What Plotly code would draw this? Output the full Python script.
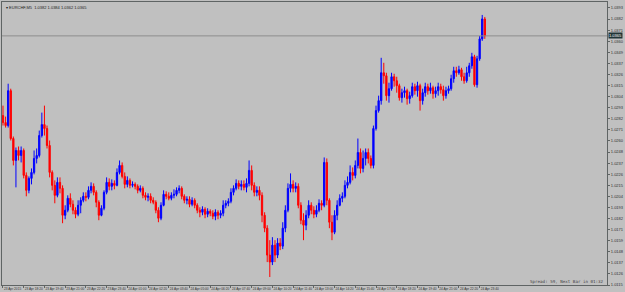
import plotly.graph_objects as go
import pandas as pd

symbol_text = "\u25be EURCHF,M5  1.0382 1.0384 1.0362 1.0365"
status_text = "Spread: 59, Next Bar in 01:32"
bid_price = 1.0365

opens = [1.0285,1.0278,1.0275,1.0310,1.0262,1.0240,1.0250,1.0245,1.0250,1.0225,
1.0210,1.0222,1.0228,1.0242,1.0245,1.0265,1.0276,1.0272,1.0255,1.0228,
1.0215,1.0205,1.0218,1.0212,1.0185,1.0190,1.0202,1.0196,1.0190,1.0186,
1.0195,1.0200,1.0204,1.0203,1.0210,1.0214,1.0208,1.0198,1.0185,1.0192,
1.0208,1.0218,1.0214,1.0217,1.0215,1.0228,1.0235,1.0224,1.0216,1.0220,
1.0215,1.0216,1.0214,1.0210,1.0212,1.0205,1.0203,1.0204,1.0200,1.0198,
1.0190,1.0182,1.0195,1.0206,1.0204,1.0202,1.0205,1.0206,1.0210,1.0212,
1.0204,1.0200,1.0201,1.0196,1.0200,1.0195,1.0190,1.0188,1.0191,1.0186,
1.0189,1.0187,1.0184,1.0188,1.0185,1.0187,1.0195,1.0197,1.0199,1.0208,
1.0212,1.0217,1.0214,1.0216,1.0213,1.0217,1.0230,1.0215,1.0208,1.0210,
1.0205,1.0185,1.0172,1.0145,1.0138,1.0155,1.0145,1.0157,1.0154,1.0172,
1.0190,1.0212,1.0216,1.0212,1.0214,1.0195,1.0180,1.0175,1.0185,1.0195,
1.0190,1.0186,1.0190,1.0197,1.0195,1.0238,1.0200,1.0178,1.0168,1.0185,
1.0195,1.0202,1.0204,1.0215,1.0218,1.0228,1.0225,1.0235,1.0248,1.0232,
1.0242,1.0248,1.0242,1.0235,1.0272,1.0290,1.0300,1.0328,1.0325,1.0305,
1.0312,1.0324,1.0320,1.0315,1.0303,1.0308,1.0310,1.0302,1.0305,1.0314,
1.0310,1.0315,1.0300,1.0308,1.0314,1.0310,1.0313,1.0307,1.0310,1.0314,
1.0311,1.0305,1.0310,1.0312,1.0322,1.0330,1.0328,1.0331,1.0324,1.0320,
1.0328,1.0335,1.0344,1.0316,1.0342,1.0362,1.0382]

highs = [1.0295,1.0284,1.0317,1.0312,1.0264,1.0253,1.0254,1.0254,1.0252,1.0228,
1.0224,1.0232,1.0250,1.0252,1.0270,1.0288,1.0295,1.0275,1.0260,1.0230,
1.0220,1.0223,1.0223,1.0215,1.0195,1.0205,1.0207,1.0200,1.0193,1.0200,
1.0203,1.0208,1.0208,1.0214,1.0218,1.0217,1.0210,1.0200,1.0195,1.0210,
1.0223,1.0222,1.0221,1.0220,1.0232,1.0240,1.0238,1.0228,1.0224,1.0222,
1.0219,1.0218,1.0216,1.0215,1.0214,1.0208,1.0207,1.0207,1.0203,1.0200,
1.0193,1.0198,1.0210,1.0209,1.0208,1.0208,1.0211,1.0213,1.0215,1.0214,
1.0206,1.0204,1.0204,1.0203,1.0202,1.0197,1.0193,1.0194,1.0193,1.0192,
1.0191,1.0190,1.0191,1.0190,1.0190,1.0200,1.0200,1.0202,1.0212,1.0215,
1.0221,1.0220,1.0220,1.0220,1.0222,1.0240,1.0235,1.0218,1.0214,1.0214,
1.0208,1.0188,1.0175,1.0160,1.0163,1.0160,1.0162,1.0162,1.0178,1.0195,
1.0217,1.0227,1.0220,1.0218,1.0217,1.0198,1.0187,1.0190,1.0200,1.0198,
1.0194,1.0195,1.0201,1.0200,1.0243,1.0242,1.0202,1.0185,1.0190,1.0200,
1.0206,1.0208,1.0220,1.0224,1.0235,1.0233,1.0240,1.0262,1.0252,1.0250,
1.0252,1.0252,1.0245,1.0275,1.0295,1.0305,1.0343,1.0338,1.0328,1.0318,
1.0328,1.0327,1.0324,1.0317,1.0312,1.0314,1.0312,1.0309,1.0318,1.0317,
1.0319,1.0317,1.0312,1.0318,1.0317,1.0318,1.0315,1.0314,1.0318,1.0317,
1.0315,1.0314,1.0315,1.0326,1.0334,1.0334,1.0335,1.0333,1.0328,1.0334,
1.0338,1.0348,1.0346,1.0345,1.0365,1.0386,1.0384]

lows = [1.0275,1.0273,1.0273,1.0260,1.0235,1.0213,1.0240,1.0238,1.0222,1.0204,
1.0207,1.0216,1.0226,1.0237,1.0243,1.0263,1.0265,1.0252,1.0223,1.0210,
1.0197,1.0203,1.0207,1.0177,1.0181,1.0188,1.0193,1.0186,1.0182,1.0184,
1.0187,1.0198,1.0199,1.0201,1.0207,1.0205,1.0193,1.0180,1.0184,1.0190,
1.0206,1.0210,1.0210,1.0211,1.0214,1.0226,1.0222,1.0212,1.0213,1.0212,
1.0213,1.0211,1.0207,1.0208,1.0202,1.0200,1.0199,1.0197,1.0196,1.0187,
1.0178,1.0180,1.0194,1.0201,1.0200,1.0200,1.0202,1.0204,1.0207,1.0201,
1.0197,1.0196,1.0193,1.0194,1.0192,1.0187,1.0183,1.0185,1.0182,1.0183,
1.0184,1.0181,1.0180,1.0181,1.0182,1.0184,1.0192,1.0194,1.0197,1.0205,
1.0210,1.0211,1.0210,1.0210,1.0208,1.0214,1.0210,1.0204,1.0204,1.0200,
1.0178,1.0168,1.0138,1.0123,1.0135,1.0138,1.0142,1.0150,1.0151,1.0168,
1.0188,1.0208,1.0208,1.0208,1.0192,1.0176,1.0160,1.0170,1.0182,1.0186,
1.0182,1.0183,1.0188,1.0190,1.0193,1.0195,1.0172,1.0160,1.0166,1.0180,
1.0194,1.0198,1.0202,1.0212,1.0216,1.0220,1.0222,1.0232,1.0227,1.0228,
1.0235,1.0237,1.0232,1.0232,1.0270,1.0288,1.0296,1.0317,1.0300,1.0298,
1.0310,1.0314,1.0308,1.0300,1.0298,1.0303,1.0296,1.0297,1.0303,1.0306,
1.0304,1.0290,1.0296,1.0304,1.0306,1.0307,1.0302,1.0303,1.0305,1.0307,
1.0300,1.0302,1.0307,1.0310,1.0318,1.0324,1.0326,1.0320,1.0317,1.0318,
1.0324,1.0332,1.0314,1.0313,1.0340,1.0360,1.0362]

closes = [1.0278,1.0275,1.0310,1.0262,1.0240,1.0250,1.0245,1.0250,1.0225,1.0210,
1.0222,1.0228,1.0242,1.0245,1.0265,1.0276,1.0272,1.0255,1.0228,1.0215,
1.0205,1.0218,1.0212,1.0185,1.0190,1.0202,1.0196,1.0190,1.0186,1.0195,
1.0200,1.0204,1.0203,1.0210,1.0214,1.0208,1.0198,1.0185,1.0192,1.0208,
1.0218,1.0214,1.0217,1.0215,1.0228,1.0235,1.0224,1.0216,1.0220,1.0215,
1.0216,1.0214,1.0210,1.0212,1.0205,1.0203,1.0204,1.0200,1.0198,1.0190,
1.0182,1.0195,1.0206,1.0204,1.0202,1.0205,1.0206,1.0210,1.0212,1.0204,
1.0200,1.0201,1.0196,1.0200,1.0195,1.0190,1.0188,1.0191,1.0186,1.0189,
1.0187,1.0184,1.0188,1.0185,1.0187,1.0195,1.0197,1.0199,1.0208,1.0212,
1.0217,1.0214,1.0216,1.0213,1.0217,1.0230,1.0215,1.0208,1.0210,1.0205,
1.0185,1.0172,1.0145,1.0138,1.0155,1.0145,1.0157,1.0154,1.0172,1.0190,
1.0212,1.0216,1.0212,1.0214,1.0195,1.0180,1.0175,1.0185,1.0195,1.0190,
1.0186,1.0190,1.0197,1.0195,1.0238,1.0200,1.0178,1.0168,1.0185,1.0195,
1.0202,1.0204,1.0215,1.0218,1.0228,1.0225,1.0235,1.0248,1.0232,1.0242,
1.0248,1.0242,1.0235,1.0272,1.0290,1.0300,1.0328,1.0325,1.0305,1.0312,
1.0324,1.0320,1.0315,1.0303,1.0308,1.0310,1.0302,1.0305,1.0314,1.0310,
1.0315,1.0300,1.0308,1.0314,1.0310,1.0313,1.0307,1.0310,1.0314,1.0311,
1.0305,1.0310,1.0312,1.0322,1.0330,1.0328,1.0331,1.0324,1.0320,1.0328,
1.0335,1.0344,1.0316,1.0342,1.0362,1.0382,1.0365]

price_tick_vals = [1.039300,1.038188,1.037076,1.035964,1.034852,1.033740,1.032628,
1.031516,1.030404,1.029292,1.028180,1.027068,1.025956,1.024844,1.023732,1.022620,
1.021508,1.020396,1.019284,1.018172,1.017060,1.015948,1.014836,1.013724,1.012612,1.011500]
price_tick_text = ["1.0393","1.0382","1.0371","1.0360","1.0349","1.0337","1.0326",
"1.0315","1.0304","1.0293","1.0282","1.0271","1.0260","1.0248","1.0237","1.0226",
"1.0215","1.0204","1.0193","1.0182","1.0171","1.0159","1.0148","1.0137","1.0126","1.0115"]

time_tick_vals = ["2015-04-23 17:00","2015-04-23 18:20","2015-04-23 19:40","2015-04-23 21:00",
"2015-04-23 22:20","2015-04-23 23:40","2015-04-24 01:00","2015-04-24 02:20",
"2015-04-24 03:40","2015-04-24 05:00","2015-04-24 06:20","2015-04-24 07:40",
"2015-04-24 09:00","2015-04-24 10:20","2015-04-24 11:40","2015-04-24 13:00",
"2015-04-24 14:20","2015-04-24 15:40","2015-04-24 17:00","2015-04-24 18:20",
"2015-04-24 19:40","2015-04-24 21:00","2015-04-24 22:20","2015-04-24 23:40"]
time_tick_text = ["23 Apr 2015","23 Apr 18:20","23 Apr 19:40","23 Apr 21:00",
"23 Apr 22:20","23 Apr 23:40","24 Apr 01:00","24 Apr 02:20",
"24 Apr 03:40","24 Apr 05:00","24 Apr 06:20","24 Apr 07:40",
"24 Apr 09:00","24 Apr 10:20","24 Apr 11:40","24 Apr 13:00",
"24 Apr 14:20","24 Apr 15:40","24 Apr 17:00","24 Apr 18:20",
"24 Apr 19:40","24 Apr 21:00","24 Apr 22:20","24 Apr 23:40"]

times = pd.date_range("2015-04-23 17:00", periods=len(closes), freq="10min")

BG = "#C0C0C0"
AXIS = "#5f6464"

fig = go.Figure(go.Candlestick(
    x=times, open=opens, high=highs, low=lows, close=closes,
    increasing=dict(line=dict(color="#0000FF", width=1), fillcolor="#0000FF"),
    decreasing=dict(line=dict(color="#FF0000", width=1), fillcolor="#FF0000"),
    whiskerwidth=0, showlegend=False, hoverinfo="skip",
))

fig.add_shape(type="line", xref="paper", x0=0, x1=1, yref="y", y0=bid_price, y1=bid_price,
              line=dict(color="#8e8e8e", width=1))

fig.add_annotation(xref="paper", x=1, yref="y", y=bid_price, xanchor="left", yanchor="middle",
                   text="%.4f" % bid_price, showarrow=False, bgcolor="#213536",
                   font=dict(family="Liberation Sans", size=4, color="#ffffff"), borderpad=0, xshift=1)
fig.add_annotation(xref="paper", x=0, yref="paper", y=1, xanchor="left", yanchor="top",
                   text=symbol_text, showarrow=False,
                   font=dict(family="Liberation Sans", size=4, color="#202020"), xshift=2, yshift=-1)
fig.add_annotation(xref="paper", x=1, yref="paper", y=0, xanchor="right", yanchor="bottom",
                   text=status_text, showarrow=False,
                   font=dict(family="DejaVu Sans Mono", size=4.2, color="#404040"), xshift=-1, yshift=-1)

fig.update_layout(
    width=625, height=292,
    margin=dict(l=1, r=16, t=1, b=7),
    paper_bgcolor=BG, plot_bgcolor=BG,
    xaxis=dict(
        type="date", range=["2015-04-23 16:56:10", "2015-04-25 07:51:40"],
        rangeslider=dict(visible=False), showgrid=False, zeroline=False,
        showline=True, linecolor=AXIS, linewidth=1, mirror=True,
        tickmode="array", tickvals=time_tick_vals, ticktext=time_tick_text, tickangle=0,
        ticks="outside", ticklen=2, tickcolor=AXIS, ticklabelposition="outside right",
        tickfont=dict(family="Liberation Sans", size=3.2, color="#303030"),
    ),
    yaxis=dict(
        side="right", range=[1.0115, 1.0399], showgrid=False, zeroline=False,
        showline=True, linecolor=AXIS, linewidth=1, mirror=True,
        tickmode="array", tickvals=price_tick_vals, ticktext=price_tick_text,
        ticks="outside", ticklen=2, tickcolor=AXIS,
        tickfont=dict(family="Liberation Sans", size=4, color="#303030"),
    ),
)

fig.write_html("out.html")
